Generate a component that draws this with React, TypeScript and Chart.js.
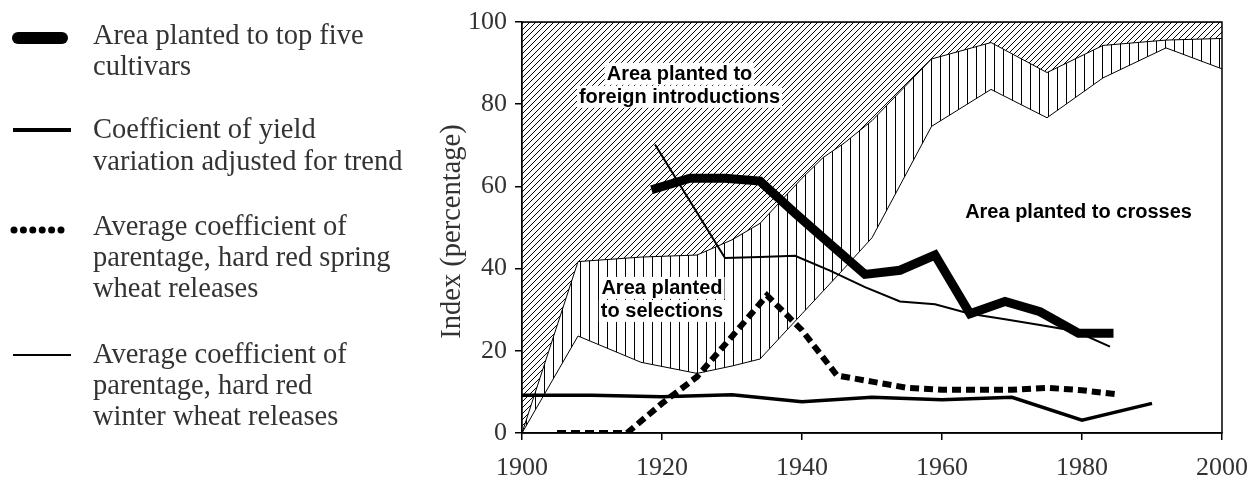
import React, { useEffect, useRef } from "react";
import { Chart, registerables } from "chart.js";

Chart.register(...registerables);

// Boundaries of the stacked area shares (percent of area)
const areaYears = [1900, 1908, 1917, 1925, 1930, 1934, 1937, 1940, 1943, 1946, 1950, 1958.5, 1967, 1975, 1983, 1992, 2000];
const foreignTop = [100, 100, 100, 100, 100, 100, 100, 100, 100, 100, 100, 100, 100, 100, 100, 100, 100];
const selectionsTop = [0, 41.7, 42.8, 43.3, 47, 51, 56.5, 62, 67, 70.5, 76, 91, 95, 87.7, 94.3, 95.6, 96];
const crossesTop = [0, 23.6, 17.2, 14.5, 16.3, 18, 23.5, 29, 34.5, 40, 47.5, 74.6, 83.6, 76.7, 86.4, 93.7, 88.6];

// Area planted to top five cultivars
const topFiveYears = [1918.5, 1924, 1929, 1934, 1939, 1944, 1949, 1954, 1959, 1964, 1969, 1974, 1979.5, 1984.5];
const topFiveValues = [59.2, 62, 62, 61.3, 53.5, 46, 38.6, 39.6, 43.3, 29, 32, 29.5, 24.3, 24.3];

// Coefficient of yield variation adjusted for trend
const yieldYears = [1900, 1910, 1920, 1930, 1940, 1950, 1960, 1970, 1980, 1990];
const yieldValues = [9.2, 9.2, 8.8, 9.3, 7.6, 8.7, 8.1, 8.7, 3.1, 7.2];

// Average coefficient of parentage, hard red spring wheat releases
const springYears = [1905, 1910, 1915, 1920, 1925, 1930, 1935, 1940, 1945, 1950, 1955, 1960, 1965, 1970, 1975, 1980, 1985];
const springValues = [0, 0, 0, 7.2, 13.7, 23.5, 33.5, 25, 14, 12.5, 11, 10.5, 10.5, 10.5, 11, 10.4, 9.4];

// Average coefficient of parentage, hard red winter wheat releases
const winterYears = [1919, 1929, 1934, 1939, 1944, 1949, 1954, 1959, 1964, 1969, 1974, 1979, 1984];
const winterValues = [70.2, 42.6, 42.8, 43.1, 39.5, 35.5, 32, 31.3, 29, 27.7, 26.3, 24.8, 21];

const xTicks = [1900, 1920, 1940, 1960, 1980, 2000];
const yTicks = [0, 20, 40, 60, 80, 100];

const legendItems = [
  { kind: "thick", lines: ["Area planted to top five", "cultivars"] },
  { kind: "medium", lines: ["Coefficient of yield", "variation adjusted for trend"] },
  { kind: "dots", lines: ["Average coefficient of", "parentage, hard red spring", "wheat releases"] },
  { kind: "thin", lines: ["Average coefficient of", "parentage, hard red", "winter wheat releases"] },
];

const areaLabels = [
  { lines: ["Area planted to", "foreign introductions"], year: 1922.5, value: 87.4 },
  { lines: ["Area planted", "to selections"], year: 1920, value: 35.3 },
  { lines: ["Area planted to crosses"], year: 1979.5, value: 53.8 },
];

const pts = (xs: number[], ys: number[]) => xs.map((x, i) => ({ x, y: ys[i] }));

function makeDiagonal(): CanvasPattern | string {
  const c = document.createElement("canvas");
  const s = 6;
  c.width = s;
  c.height = s;
  const g = c.getContext("2d");
  if (!g) return "#fff";
  g.fillStyle = "#fff";
  g.fillRect(0, 0, s, s);
  g.strokeStyle = "#000";
  g.lineWidth = 1;
  g.beginPath();
  g.moveTo(-1, s + 1);
  g.lineTo(s + 1, -1);
  g.moveTo(-1, 1);
  g.lineTo(1, -1);
  g.moveTo(s - 1, s + 1);
  g.lineTo(s + 1, s - 1);
  g.stroke();
  return g.createPattern(c, "repeat") || "#fff";
}

function makeVertical(): CanvasPattern | string {
  const c = document.createElement("canvas");
  c.width = 9;
  c.height = 4;
  const g = c.getContext("2d");
  if (!g) return "#fff";
  g.fillStyle = "#fff";
  g.fillRect(0, 0, 9, 4);
  g.fillStyle = "#000";
  g.fillRect(4, 0, 1, 4);
  return g.createPattern(c, "repeat") || "#fff";
}

const SERIF = '"Liberation Serif", "Times New Roman", serif';
const SANS = '"Liberation Sans", Arial, sans-serif';
const TEXT = "#333";

const decor = {
  id: "decor",
  afterDatasetsDraw(chart: any) {
    const ctx = chart.ctx as CanvasRenderingContext2D;
    const xs = chart.scales.x;
    const ys = chart.scales.y;
    ctx.save();
    ctx.font = `bold 20px ${SANS}`;
    ctx.textAlign = "center";
    ctx.textBaseline = "middle";
    const lh = 23;
    for (const lab of areaLabels) {
      const cx = xs.getPixelForValue(lab.year);
      const cy0 = ys.getPixelForValue(lab.value);
      lab.lines.forEach((t, i) => {
        const cy = cy0 + i * lh;
        const w = ctx.measureText(t).width;
        ctx.fillStyle = "#fff";
        ctx.fillRect(cx - w / 2 - 2, cy - 11, w + 4, 22);
      });
      lab.lines.forEach((t, i) => {
        const cy = cy0 + i * lh;
        ctx.fillStyle = "#000";
        ctx.fillText(t, cx, cy + 1);
      });
    }
    ctx.restore();
  },
  afterDraw(chart: any) {
    const ctx = chart.ctx as CanvasRenderingContext2D;
    const a = chart.chartArea;
    ctx.save();
    // frame
    ctx.strokeStyle = "#000";
    ctx.lineWidth = 1.5;
    ctx.strokeRect(a.left, a.top, a.right - a.left, a.bottom - a.top);
    // y title
    ctx.save();
    ctx.translate(453, (a.top + a.bottom) / 2 + 4);
    ctx.rotate(-Math.PI / 2);
    ctx.fillStyle = TEXT;
    ctx.font = `28.5px ${SERIF}`;
    ctx.textAlign = "center";
    ctx.textBaseline = "middle";
    ctx.fillText("Index (percentage)", 0, 0);
    ctx.restore();
    // legend
    const baselines = [
      [44, 75],
      [138, 170],
      [235, 266, 297],
      [363, 394, 425],
    ];
    const symY = [38, 130, 230, 355];
    legendItems.forEach((it, k) => {
      ctx.strokeStyle = "#000";
      ctx.fillStyle = "#000";
      const y = symY[k];
      if (it.kind === "thick") {
        ctx.lineWidth = 12;
        ctx.lineCap = "round";
        ctx.beginPath();
        ctx.moveTo(18, y);
        ctx.lineTo(62, y);
        ctx.stroke();
      } else if (it.kind === "medium" || it.kind === "thin") {
        ctx.lineWidth = it.kind === "medium" ? 4 : 2;
        ctx.lineCap = "butt";
        ctx.beginPath();
        ctx.moveTo(13, y);
        ctx.lineTo(71, y);
        ctx.stroke();
      } else {
        for (let i = 0; i < 6; i++) {
          ctx.beginPath();
          ctx.arc(14 + i * 9.4, y, 3.5, 0, Math.PI * 2);
          ctx.fill();
        }
      }
      ctx.fillStyle = TEXT;
      ctx.font = `28.5px ${SERIF}`;
      ctx.textAlign = "left";
      ctx.textBaseline = "alphabetic";
      it.lines.forEach((t, i) => ctx.fillText(t, 93, baselines[k][i]));
    });
    ctx.restore();
  },
};

export default function App() {
  const ref = useRef<HTMLCanvasElement | null>(null);
  useEffect(() => {
    if (!ref.current) return;
    const diag = makeDiagonal();
    const vert = makeVertical();
    const tickFont = { family: SERIF, size: 26 };
    const chart = new Chart(ref.current, {
      type: "line",
      data: {
        datasets: [
          {
            label: "Area planted to top five cultivars",
            data: pts(topFiveYears, topFiveValues),
            borderColor: "#000",
            borderWidth: 9,
            borderCapStyle: "butt",
            borderJoinStyle: "miter",
            pointRadius: 0,
            fill: false,
            order: 0,
          },
          {
            label: "Coefficient of yield variation adjusted for trend",
            data: pts(yieldYears, yieldValues),
            borderColor: "#000",
            borderWidth: 3.5,
            pointRadius: 0,
            fill: false,
            order: 1,
          },
          {
            label: "Average coefficient of parentage, hard red spring wheat releases",
            data: pts(springYears, springValues),
            borderColor: "#000",
            borderWidth: 6,
            borderDash: [9, 5],
            borderCapStyle: "butt",
            pointRadius: 0,
            fill: false,
            order: 2,
          },
          {
            label: "Average coefficient of parentage, hard red winter wheat releases",
            data: pts(winterYears, winterValues),
            borderColor: "#000",
            borderWidth: 2,
            pointRadius: 0,
            fill: false,
            order: 3,
          },
          {
            label: "Area planted to foreign introductions",
            data: pts(areaYears, foreignTop),
            borderColor: "#000",
            borderWidth: 1,
            pointRadius: 0,
            fill: "+1",
            backgroundColor: diag as any,
            order: 10,
          },
          {
            label: "Area planted to selections",
            data: pts(areaYears, selectionsTop),
            borderColor: "#000",
            borderWidth: 1,
            pointRadius: 0,
            fill: "+1",
            backgroundColor: vert as any,
            order: 9,
          },
          {
            label: "Area planted to crosses",
            data: pts(areaYears, crossesTop),
            borderColor: "#000",
            borderWidth: 1,
            pointRadius: 0,
            fill: false,
            order: 8,
          },
        ],
      },
      options: {
        responsive: false,
        animation: false,
        devicePixelRatio: 1,
        layout: { padding: { left: 0, right: 34, top: 22, bottom: 0 } },
        plugins: { legend: { display: false }, tooltip: { enabled: false } },
        elements: { line: { tension: 0 } },
        scales: {
          x: {
            type: "linear",
            min: 1900,
            max: 2000,
            afterBuildTicks: (s: any) => {
              s.ticks = xTicks.map((v) => ({ value: v }));
            },
            afterFit: (s: any) => {
              s.height = 46;
              s.paddingLeft = 0;
              s.paddingRight = 0;
            },
            ticks: {
              color: TEXT,
              font: tickFont,
              padding: 13,
              maxRotation: 0,
              autoSkip: false,
              callback: (v: any) => String(v),
            },
            grid: { drawOnChartArea: false, drawTicks: true, tickLength: 7, color: "#000", lineWidth: 1.5 },
            border: { display: true, color: "#000", width: 1.5 },
          },
          y: {
            type: "linear",
            min: 0,
            max: 100,
            afterBuildTicks: (s: any) => {
              s.ticks = yTicks.map((v) => ({ value: v }));
            },
            afterFit: (s: any) => {
              s.width = 522;
              s.paddingTop = 0;
              s.paddingBottom = 0;
            },
            ticks: {
              color: TEXT,
              font: tickFont,
              padding: 8,
              autoSkip: false,
              callback: (v: any) => String(v),
            },
            grid: { drawOnChartArea: false, drawTicks: true, tickLength: 7, color: "#000", lineWidth: 1.5 },
            border: { display: true, color: "#000", width: 1.5 },
          },
        },
      } as any,
      plugins: [decor],
    });
    return () => chart.destroy();
  }, []);
  return (
    <div style={{ position: "absolute", left: 0, top: 0, width: 1256, height: 479, background: "#fff" }}>
      <canvas ref={ref} width={1256} height={479} style={{ display: "block" }} />
    </div>
  );
}
